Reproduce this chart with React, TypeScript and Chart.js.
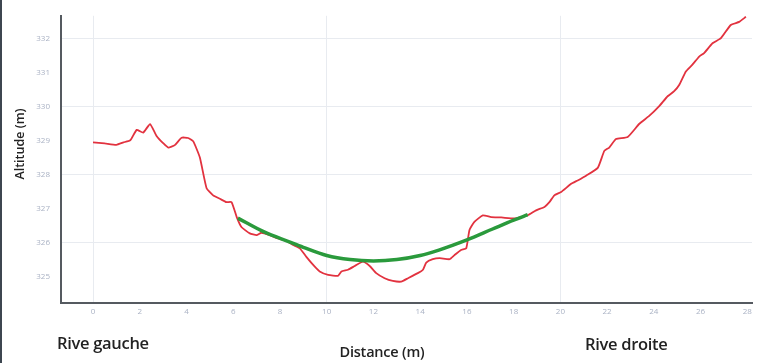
import React, { useEffect, useRef } from "react";
import { Chart, registerables } from "chart.js";

Chart.register(...registerables);

const distance = [0, 0.5, 1, 1.3, 1.6, 1.87, 2.15, 2.44, 2.72, 3.0, 3.22, 3.5, 3.79, 4.07, 4.29, 4.57, 4.86, 5.14, 5.43, 5.71, 5.93, 6.15, 6.35, 6.71, 7.0, 7.21, 7.56, 7.92, 8.27, 8.56, 8.85, 9.13, 9.49, 9.7, 10.06, 10.48, 10.63, 10.91, 11.2, 11.55, 11.84, 12.12, 12.48, 12.83, 13.19, 13.48, 13.9, 14.12, 14.26, 14.54, 14.83, 15.26, 15.47, 15.75, 15.97, 16.11, 16.32, 16.68, 17.04, 17.47, 18.04, 18.6, 18.96, 19.32, 19.53, 19.74, 20.03, 20.46, 20.74, 21.1, 21.6, 21.88, 22.09, 22.38, 22.88, 23.38, 23.8, 24.23, 24.59, 24.87, 25.09, 25.37, 25.65, 25.94, 26.15, 26.51, 26.87, 27.29, 27.65, 27.94];
const altitude = [328.95, 328.92, 328.88, 328.95, 329.02, 329.32, 329.24, 329.49, 329.14, 328.93, 328.8, 328.87, 329.09, 329.08, 328.98, 328.51, 327.6, 327.39, 327.29, 327.19, 327.19, 326.75, 326.46, 326.27, 326.22, 326.29, 326.22, 326.12, 326.05, 325.93, 325.83, 325.58, 325.29, 325.15, 325.05, 325.02, 325.15, 325.2, 325.31, 325.44, 325.31, 325.1, 324.95, 324.87, 324.85, 324.95, 325.1, 325.2, 325.41, 325.51, 325.54, 325.51, 325.63, 325.78, 325.83, 326.37, 326.61, 326.8, 326.75, 326.74, 326.71, 326.8, 326.95, 327.05, 327.19, 327.39, 327.49, 327.73, 327.83, 327.97, 328.2, 328.7, 328.8, 329.05, 329.11, 329.5, 329.73, 330.02, 330.31, 330.46, 330.65, 331.04, 331.24, 331.48, 331.58, 331.87, 332.02, 332.41, 332.5, 332.65];

const fitDistance = [6.2, 7.3, 8.4, 9.0, 10, 11, 12, 13, 14, 14.8, 16, 17.1, 18, 18.6];
const fitAltitude = [326.72, 326.32, 326.02, 325.86, 325.62, 325.5, 325.46, 325.5, 325.62, 325.78, 326.08, 326.4, 326.66, 326.82];

const xTitle = "Distance (m)";
const yTitle = "Altitude (m)";
const leftLabel = "Rive gauche";
const rightLabel = "Rive droite";

export default function App() {
  const ref = useRef<HTMLCanvasElement | null>(null);

  useEffect(() => {
    if (!ref.current) return;
    const chart = new Chart(ref.current, {
      type: "line",
      data: {
        datasets: [
          {
            data: distance.map((d, i) => ({ x: d, y: altitude[i] })),
            borderColor: "#e2323f",
            borderWidth: 1.8,
            pointRadius: 0,
            tension: 0.15,
            order: 2,
          },
          {
            data: fitDistance.map((d, i) => ({ x: d, y: fitAltitude[i] })),
            borderColor: "#2a9a3c",
            borderWidth: 3.5,
            pointRadius: 0,
            cubicInterpolationMode: "monotone",
            order: 1,
          },
        ],
      },
      options: {
        animation: false,
        responsive: false,
        maintainAspectRatio: false,
        layout: { padding: { top: 14, right: 10, left: 0, bottom: 0 } },
        plugins: { legend: { display: false }, tooltip: { enabled: false } },
        scales: {
          x: {
            type: "linear",
            min: -1.37,
            max: 28.2,
            afterFit: (s: any) => {
              s.height = 60;
            },
            border: { display: true, color: "#555a60", width: 2 },
            grid: {
              drawTicks: false,
              color: (c: any) => (c.tick && Math.abs(c.tick.value % 10) < 1e-6 ? "#e8ebf0" : "rgba(0,0,0,0)"),
            },
            ticks: {
              stepSize: 2,
              includeBounds: false,
              padding: 4,
              color: "#aab2c4",
              font: { family: "Open Sans", size: 8 },
              maxRotation: 0,
              autoSkip: false,
            },
          },
          y: {
            type: "linear",
            min: 324.22,
            max: 332.68,
            afterFit: (s: any) => {
              s.width = 61;
            },
            border: { display: true, color: "#555a60", width: 2 },
            grid: {
              drawTicks: false,
              color: (c: any) => (c.tick && Math.abs(Math.round(c.tick.value) % 2) === 0 && Math.abs(c.tick.value - Math.round(c.tick.value)) < 1e-6 ? "#e8ebf0" : "rgba(0,0,0,0)"),
            },
            ticks: {
              stepSize: 1,
              includeBounds: false,
              padding: 11,
              color: "#aab2c4",
              font: { family: "Open Sans", size: 8 },
            },
          },
        },
      },
    });
    return () => chart.destroy();
  }, []);

  const txt: React.CSSProperties = {
    position: "absolute",
    fontFamily: "'Open Sans', 'Noto Sans', sans-serif",
    color: "#222",
    whiteSpace: "nowrap",
    lineHeight: "1",
  };

  return (
    <div style={{ position: "fixed", left: 0, top: 0, width: 762, height: 363, background: "#fff", overflow: "hidden" }}>
      <canvas ref={ref} width={762} height={363} style={{ position: "absolute", left: 0, top: 0, width: 762, height: 363 }} />
      <div style={{ position: "absolute", left: 0, top: 0, width: 2, height: 363, background: "#3d4650" }} />
      <div style={{ ...txt, left: 57, top: 343, transform: "translateY(-50%)", fontSize: 16.5, fontWeight: 600, letterSpacing: -0.3 }}>{leftLabel}</div>
      <div style={{ ...txt, left: 585, top: 344, transform: "translateY(-50%)", fontSize: 16.5, fontWeight: 600, letterSpacing: -0.3 }}>{rightLabel}</div>
      <div style={{ ...txt, left: 382, top: 352, transform: "translate(-50%, -50%)", fontSize: 14.5, fontWeight: 600, letterSpacing: -0.2 }}>{xTitle}</div>
      <div style={{ ...txt, left: 20, top: 144, transform: "translate(-50%, -50%) rotate(-90deg)", fontSize: 12.5, fontWeight: 600 }}>{yTitle}</div>
    </div>
  );
}
